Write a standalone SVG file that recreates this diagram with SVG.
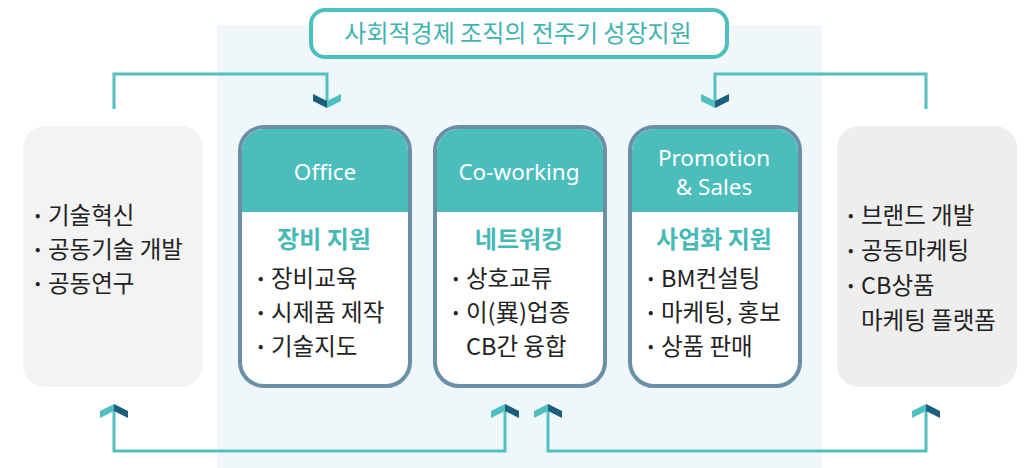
<svg xmlns="http://www.w3.org/2000/svg" width="1030" height="468" viewBox="0 0 1030 468">
<style>
.panel{fill:#eff7fa}
.card{fill:#ffffff;stroke:#6b8fa7;stroke-width:4}
.hdr{fill:#4bbdbb}
.hdrt{font-family:"Noto Sans","Noto Sans CJK KR",sans-serif;font-size:22.5px;fill:#ffffff;text-anchor:middle}
.sub{font-family:"Noto Sans CJK KR",sans-serif;font-size:24px;font-weight:700;fill:#45b9b6;text-anchor:middle}
.body{font-family:"Noto Sans CJK KR",sans-serif;font-size:23.5px;fill:#222222}
.bul{font-size:16px}
.title{font-family:"Noto Sans CJK KR",sans-serif;font-size:24px;fill:#3fb3b1;text-anchor:middle}
.ln{fill:none;stroke:#52c0c0;stroke-width:3}
.lt{fill:#4fc0bf}
.dk{fill:#1b5f7c}
</style>
<rect class="panel" x="217" y="25" width="605" height="443"/>

<g id="connectors">
  <polyline class="ln" points="114,109 114,74 327,74 327,101"/>
  <polyline class="ln" points="926,109 926,74 715,74 715,101"/>
  <polyline class="ln" points="114,410 114,451 505,451 505,410"/>
  <polyline class="ln" points="548,410 548,451 926,451 926,410"/>
  <polygon class="dk" points="327,108 313,101 313,94 327,101"/>
  <polygon class="lt" points="327,108 341,101 341,94 327,101"/>
  <polygon class="lt" points="715,108 701,101 701,94 715,101"/>
  <polygon class="dk" points="715,108 729,101 729,94 715,101"/>
  <polygon class="lt" points="114,404 100,411 100,418 114,411"/>
  <polygon class="dk" points="114,404 128,411 128,418 114,411"/>
  <polygon class="lt" points="505,404 491,411 491,418 505,411"/>
  <polygon class="dk" points="505,404 519,411 519,418 505,411"/>
  <polygon class="lt" points="548,404 534,411 534,418 548,411"/>
  <polygon class="dk" points="548,404 562,411 562,418 548,411"/>
  <polygon class="lt" points="926,404 912,411 912,418 926,411"/>
  <polygon class="dk" points="926,404 940,411 940,418 926,411"/>
</g>

<g id="title">
  <rect x="311" y="10" width="416" height="47" rx="14" fill="#ffffff" stroke="#4cc0bd" stroke-width="4"/>
  <text class="title" x="518" y="42">사회적경제 조직의 전주기 성장지원</text>
</g>

<g id="left-box">
  <rect x="23" y="126" width="180" height="261" rx="22" fill="#f3f3f3"/>
  <text class="body"><tspan class="bul" x="35" y="221">•</tspan><tspan x="48" y="224">기술혁신</tspan></text>
  <text class="body"><tspan class="bul" x="35" y="255">•</tspan><tspan x="48" y="258">공동기술 개발</tspan></text>
  <text class="body"><tspan class="bul" x="35" y="289">•</tspan><tspan x="48" y="292">공동연구</tspan></text>
</g>

<g id="right-box">
  <rect x="837" y="126" width="180" height="261" rx="22" fill="#eeeeee"/>
  <text class="body"><tspan class="bul" x="848" y="221">•</tspan><tspan x="861" y="224">브랜드 개발</tspan></text>
  <text class="body"><tspan class="bul" x="848" y="256">•</tspan><tspan x="861" y="259">공동마케팅</tspan></text>
  <text class="body"><tspan class="bul" x="848" y="291">•</tspan><tspan x="861" y="294">CB상품</tspan></text>
  <text class="body"><tspan x="861" y="329">마케팅 플랫폼</tspan></text>
</g>

<g id="office">
  <rect class="card" x="240" y="127" width="170" height="259" rx="24"/>
  <path class="hdr" d="M242,212 V151 A22,22 0 0 1 264,129 H386 A22,22 0 0 1 408,151 V212 Z"/>
  <text class="hdrt" x="325" y="180">Office</text>
  <text class="sub" x="324" y="248">장비 지원</text>
  <text class="body"><tspan class="bul" x="258" y="284">•</tspan><tspan x="271" y="287">장비교육</tspan></text>
  <text class="body"><tspan class="bul" x="258" y="318">•</tspan><tspan x="271" y="321">시제품 제작</tspan></text>
  <text class="body"><tspan class="bul" x="258" y="352">•</tspan><tspan x="271" y="355">기술지도</tspan></text>
</g>

<g id="coworking">
  <rect class="card" x="435" y="127" width="170" height="259" rx="24"/>
  <path class="hdr" d="M437,212 V151 A22,22 0 0 1 459,129 H581 A22,22 0 0 1 603,151 V212 Z"/>
  <text class="hdrt" x="519" y="180">Co-working</text>
  <text class="sub" x="519" y="248">네트워킹</text>
  <text class="body"><tspan class="bul" x="453" y="284">•</tspan><tspan x="466" y="287">상호교류</tspan></text>
  <text class="body"><tspan class="bul" x="453" y="318">•</tspan><tspan x="466" y="321">이(異)업종</tspan></text>
  <text class="body"><tspan x="466" y="355">CB간 융합</tspan></text>
</g>

<g id="promotion">
  <rect class="card" x="630" y="127" width="170" height="259" rx="24"/>
  <path class="hdr" d="M632,212 V151 A22,22 0 0 1 654,129 H776 A22,22 0 0 1 798,151 V212 Z"/>
  <text class="hdrt" x="714" y="166">Promotion</text>
  <text class="hdrt" x="714" y="195">&amp; Sales</text>
  <text class="sub" x="714" y="248">사업화 지원</text>
  <text class="body"><tspan class="bul" x="648" y="284">•</tspan><tspan x="661" y="287">BM컨설팅</tspan></text>
  <text class="body"><tspan class="bul" x="648" y="318">•</tspan><tspan x="661" y="321">마케팅, 홍보</tspan></text>
  <text class="body"><tspan class="bul" x="648" y="352">•</tspan><tspan x="661" y="355">상품 판매</tspan></text>
</g>
</svg>
